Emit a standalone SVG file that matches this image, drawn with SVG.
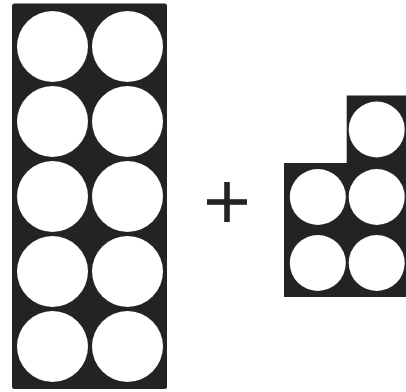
<svg xmlns="http://www.w3.org/2000/svg" width="406" height="392" viewBox="0 0 406 392">
<style>
.frame{fill:#232323}
.dot{fill:#ffffff}
</style>
<rect width="406" height="392" fill="#ffffff"/>
<g id="ten-frame">
<rect class="frame" x="12" y="3.5" width="155" height="385.5" rx="2.5"/>
<circle class="dot" cx="52.5" cy="46.5" r="35.5"/>
<circle class="dot" cx="127.5" cy="46.5" r="35.5"/>
<circle class="dot" cx="52.5" cy="121.5" r="35.5"/>
<circle class="dot" cx="127.5" cy="121.5" r="35.5"/>
<circle class="dot" cx="52.5" cy="196.5" r="35.5"/>
<circle class="dot" cx="127.5" cy="196.5" r="35.5"/>
<circle class="dot" cx="52.5" cy="271.5" r="35.5"/>
<circle class="dot" cx="127.5" cy="271.5" r="35.5"/>
<circle class="dot" cx="52.5" cy="346.5" r="35.5"/>
<circle class="dot" cx="127.5" cy="346.5" r="35.5"/>
</g>
<g id="plus">
<rect class="frame" x="207" y="199.2" width="40" height="5.6"/>
<rect class="frame" x="224.2" y="182" width="5.6" height="40"/>
</g>
<g id="five-frame">
<path class="frame" d="M346.7 95.5 H406 V297 H284 V163 H346.7 Z"/>
<circle class="dot" cx="376.7" cy="129.5" r="28"/>
<circle class="dot" cx="317.8" cy="197" r="28"/>
<circle class="dot" cx="376.7" cy="197" r="28"/>
<circle class="dot" cx="317.8" cy="263" r="28"/>
<circle class="dot" cx="376.7" cy="263" r="28"/>
</g>
</svg>
